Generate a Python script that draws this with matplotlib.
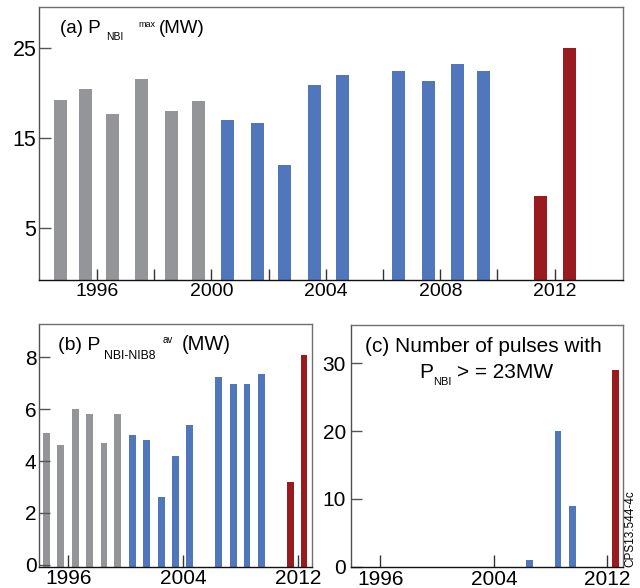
import numpy as np
import matplotlib
matplotlib.use("Agg")
import matplotlib.pyplot as plt

plt.rcParams['font.family'] = ['Liberation Sans', 'DejaVu Sans']

# ---------------- data ----------------
# (a) maximum NBI power per campaign (MW)
x_a = [1994.72, 1995.58, 1996.54, 1997.56, 1998.60, 1999.56,
       2000.56, 2001.61, 2002.56, 2003.59, 2004.58,
       2006.54, 2007.58, 2008.60, 2009.51,
       2011.49, 2012.52]
pmax = [19.2, 20.4, 17.6, 21.5, 18.0, 19.1,
        17.0, 16.6, 12.0, 20.85, 21.95,
        22.4, 21.3, 23.2, 22.4,
        8.5, 25.0]
# (b) average NBI power without NIB8 (MW)
x_b = [1994.50, 1995.47, 1996.52, 1997.46, 1998.49, 1999.41,
       2000.46, 2001.44, 2002.48, 2003.46, 2004.43,
       2006.45, 2007.50, 2008.47, 2009.45,
       2011.47, 2012.43]
pav = [5.1, 4.6, 6.0, 5.8, 4.7, 5.8,
       5.0, 4.8, 2.6, 4.2, 5.4,
       7.25, 6.95, 6.95, 7.35,
       3.2, 8.1]
# group of each campaign: 0 = grey, 1 = blue, 2 = red
group_ab = [0, 0, 0, 0, 0, 0,
            1, 1, 1, 1, 1,
            1, 1, 1, 1,
            2, 2]
# (c) number of pulses with P_NBI >= 23 MW
x_c = [2006.50, 2008.52, 2009.53, 2012.56]
npulses = [1, 20, 9, 29]
group_c = [1, 1, 1, 2]

colors = ['#939598', '#5077BB', '#9A1B1F']

W, H = 640, 588
fig = plt.figure(figsize=(6.4, 5.88), dpi=100)


def px_rect(l, t, r, b):
    return [l / W, 1 - b / H, (r - l) / W, (b - t) / H]


def ptxt(x, y, s, size, **kw):
    fig.text(x / W, 1 - y / H, s, fontsize=size, va='baseline', **kw)


def style(ax, ylab_size, xlab_size, ylab_pad, xlab_pad, ytick_len, xtick_len):
    for side in ['top', 'right']:
        ax.spines[side].set_color('#707070')
        ax.spines[side].set_linewidth(1.0)
    ax.spines['left'].set_color('#505050')
    ax.spines['left'].set_linewidth(1.0)
    ax.spines['bottom'].set_color('#111111')
    ax.spines['bottom'].set_linewidth(1.0)
    ax.tick_params(axis='y', direction='in', length=ytick_len, width=1.0,
                   color='#555555', labelsize=ylab_size, pad=ylab_pad)
    ax.tick_params(axis='x', which='both', direction='in', length=xtick_len,
                   width=1.0, color='#333333', labelsize=xlab_size, pad=xlab_pad)


# ---------------- panel (a) ----------------
ax_a = fig.add_axes(px_rect(39.3, 6.7, 623, 280))
ylo_a = -0.8
ax_a.bar(x_a, np.array(pmax) - ylo_a, width=0.455, bottom=ylo_a,
         color=[colors[g] for g in group_ab], linewidth=0)
ax_a.set_xlim(1993.98, 2014.39)
ax_a.set_ylim(ylo_a, 29.55)
ax_a.set_yticks([5, 15, 25])
ax_a.set_xticks([1996, 2000, 2004, 2008, 2012])
ax_a.set_xticks([1998, 2002, 2006, 2010], minor=True)
style(ax_a, 15.5, 14, 2, 2.5, 8.4, 7.7)

ptxt(60, 33.3, '(a) P', 13.5)
ptxt(106, 40, 'NBI', 7.5)
ptxt(138, 26.7, 'max', 6.5)
ptxt(159, 33.3, '(MW)', 13.5)

# ---------------- panel (b) ----------------
ax_b = fig.add_axes(px_rect(39.3, 324, 311.7, 566.7))
ylo_b = -0.07
ax_b.bar(x_b, np.array(pav) - ylo_b, width=0.465, bottom=ylo_b,
         color=[colors[g] for g in group_ab], linewidth=0)
ax_b.set_xlim(1993.98, 2012.97)
ax_b.set_ylim(ylo_b, 9.28)
ax_b.set_yticks([0, 2, 4, 6, 8])
ax_b.set_xticks([1996, 2004, 2012])
style(ax_b, 15, 15, 2, 2, 8, 8.4)

ptxt(58.3, 350, '(b) P', 14)
ptxt(104, 359, 'NBI-NIB8', 8.8)
ptxt(163, 343.3, 'av', 7)
ptxt(181.7, 350, '(MW)', 14.5)

# ---------------- panel (c) ----------------
ax_c = fig.add_axes(px_rect(350.7, 324.7, 623.3, 567.3))
ylo_c = -0.1
ax_c.bar(x_c, np.array(npulses) - ylo_c, width=0.47, bottom=ylo_c,
         color=[colors[g] for g in group_c], linewidth=0)
ax_c.set_xlim(1993.91, 2013.12)
ax_c.set_ylim(ylo_c, 35.7)
ax_c.set_yticks([0, 10, 20, 30])
ax_c.set_xticks([1996, 2004, 2012])
style(ax_c, 15, 15, 3.5, 2, 8, 8.4)

ptxt(483.3, 351.7, '(c) Number of pulses with', 15, ha='center')
ptxt(419.3, 378.3, 'P', 15)
ptxt(433, 385, 'NBI', 8)
ptxt(456.7, 378.3, '> = 23MW', 15)

fig.text(630 / W, 1 - 567 / H, 'CPS13.544-4c', fontsize=8.5, rotation=90,
         ha='center', va='bottom')

fig.savefig('out.png', dpi=100)
